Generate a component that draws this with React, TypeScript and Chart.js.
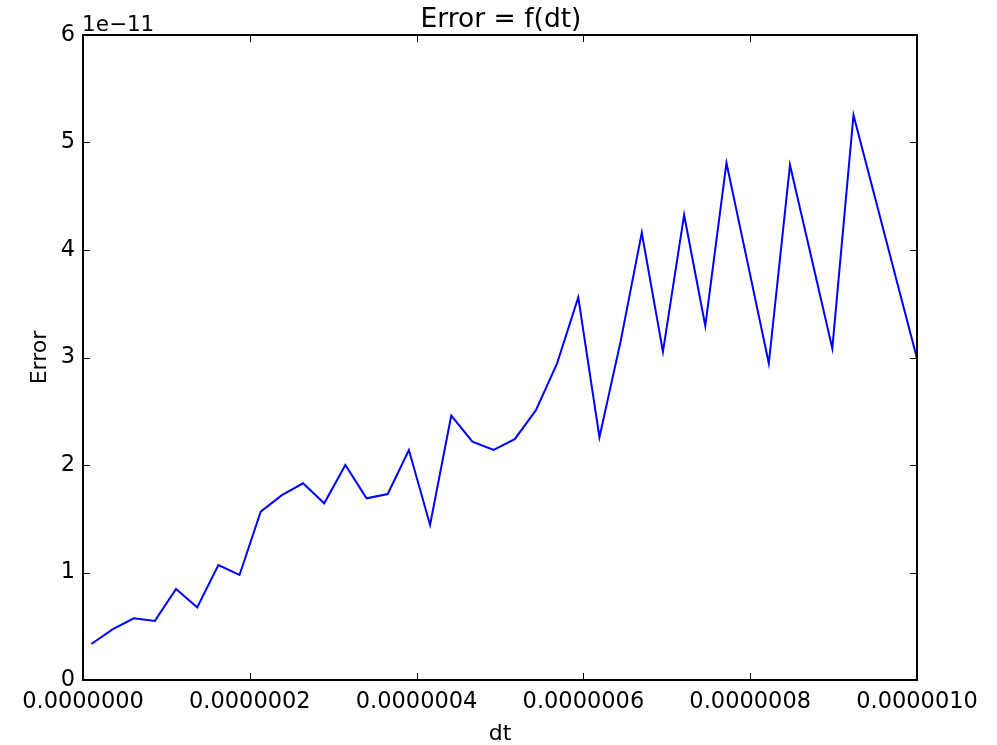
import React, { useEffect, useRef } from "react";
import { Chart, registerables } from "chart.js";

Chart.register(...registerables);

// dt values (seconds)
const dtValues = [
  1.0e-8, 3.538e-8, 6.077e-8, 8.615e-8, 1.1154e-7, 1.3692e-7, 1.6231e-7, 1.8769e-7,
  2.1308e-7, 2.3846e-7, 2.6385e-7, 2.8923e-7, 3.1462e-7, 3.4e-7, 3.6538e-7, 3.9077e-7,
  4.1615e-7, 4.4154e-7, 4.6692e-7, 4.9231e-7, 5.1769e-7, 5.4308e-7, 5.6846e-7, 5.9385e-7,
  6.1923e-7, 6.4462e-7, 6.7e-7, 6.9538e-7, 7.2077e-7, 7.4615e-7, 7.7154e-7, 7.9692e-7,
  8.2231e-7, 8.4769e-7, 8.7308e-7, 8.9846e-7, 9.2385e-7, 9.4923e-7, 9.7462e-7, 1.0e-6,
];

// Error values (×1e-11)
const errorValues = [
  0.335, 0.47, 0.574, 0.55, 0.847, 0.676, 1.07, 0.977,
  1.566, 1.72, 1.83, 1.644, 2.0, 1.69, 1.73, 2.14,
  1.442, 2.459, 2.217, 2.14, 2.24, 2.51, 2.946, 3.56,
  2.258, 3.15, 4.16, 3.054, 4.326, 3.293, 4.81, 3.88,
  2.946, 4.79, 3.94, 3.085, 5.256, 4.5, 3.745, 2.99,
];

const errorScale = 1e-11;
const xTickStep = 2e-7;
const yTickStep = 1e-11;
const xMax = 1e-6;
const yMax = 6e-11;

const titleText = "Error = f(dt)";
const xLabel = "dt";
const yLabel = "Error";
const offsetText = "1e\u221211";

const FONT = "'DejaVu Sans', sans-serif";

const framePlugin = {
  id: "mplFrame",
  afterDatasetsDraw(chart: any) {
    const { ctx, chartArea } = chart;
    const { left, right, top, bottom } = chartArea;
    ctx.save();
    ctx.strokeStyle = "#000";
    // inward ticks
    ctx.lineWidth = 1;
    const tl = 7;
    const xs = chart.scales.x;
    xs.ticks.forEach((t: any) => {
      const px = Math.round(xs.getPixelForValue(t.value)) + 0.5;
      ctx.beginPath();
      ctx.moveTo(px, bottom);
      ctx.lineTo(px, bottom - tl);
      ctx.moveTo(px, top);
      ctx.lineTo(px, top + tl);
      ctx.stroke();
    });
    const ys = chart.scales.y;
    ys.ticks.forEach((t: any) => {
      const py = Math.round(ys.getPixelForValue(t.value)) + 0.5;
      ctx.beginPath();
      ctx.moveTo(left, py);
      ctx.lineTo(left + tl, py);
      ctx.moveTo(right, py);
      ctx.lineTo(right - tl, py);
      ctx.stroke();
    });
    // frame
    ctx.lineWidth = 2;
    ctx.strokeRect(left, top, right - left, bottom - top);
    // title
    ctx.fillStyle = "#000";
    ctx.font = `26.5px ${FONT}`;
    ctx.textAlign = "center";
    ctx.textBaseline = "alphabetic";
    ctx.fillText(titleText, (left + right) / 2 + 1, 27);
    // offset text
    ctx.font = `21.5px ${FONT}`;
    ctx.textAlign = "left";
    ctx.fillText(offsetText, left - 1, 31);
    ctx.restore();
  },
};

export default function App() {
  const canvasRef = useRef<HTMLCanvasElement | null>(null);

  useEffect(() => {
    const canvas = canvasRef.current;
    if (!canvas) return;
    const points = dtValues.map((x, i) => ({ x, y: errorValues[i] * errorScale }));
    const chart = new Chart(canvas, {
      type: "line",
      data: {
        datasets: [
          {
            data: points,
            borderColor: "#0000ff",
            backgroundColor: "#0000ff",
            borderWidth: 2,
            pointRadius: 0,
            tension: 0,
            fill: false,
          },
        ],
      },
      options: {
        animation: false,
        responsive: false,
        events: [],
        layout: { padding: { top: 35, right: 80, left: 0, bottom: 0 } },
        plugins: {
          legend: { display: false },
          tooltip: { enabled: false },
          title: { display: false },
        },
        scales: {
          x: {
            type: "linear",
            min: 0,
            max: xMax,
            grid: { display: false, drawTicks: false },
            border: { display: false },
            ticks: {
              stepSize: xTickStep,
              autoSkip: false,
              maxRotation: 0,
              padding: 9,
              color: "#000",
              font: { family: FONT, size: 22.5 },
              callback: (v: any) => Number(v).toFixed(7),
            },
            title: {
              display: true,
              text: xLabel,
              color: "#000",
              font: { family: FONT, size: 22 },
              padding: { top: 0, bottom: -2 },
            },
            afterFit: (scale: any) => {
              scale.height = 65;
            },
          },
          y: {
            type: "linear",
            min: 0,
            max: yMax,
            grid: { display: false, drawTicks: false },
            border: { display: false },
            ticks: {
              stepSize: yTickStep,
              autoSkip: false,
              padding: 8,
              color: "#000",
              font: { family: FONT, size: 22.5 },
              callback: (v: any) => String(Math.round(Number(v) / errorScale)),
            },
            title: {
              display: true,
              text: yLabel,
              color: "#000",
              font: { family: FONT, size: 22 },
              padding: { top: 27, bottom: 0 },
            },
            afterFit: (scale: any) => {
              scale.width = 83;
            },
          },
        },
      },
      plugins: [framePlugin],
    });
    return () => chart.destroy();
  }, []);

  return (
    <div style={{ position: "absolute", left: 0, top: 0, width: 997, height: 745, background: "#fff" }}>
      <canvas ref={canvasRef} width={997} height={745} />
    </div>
  );
}
